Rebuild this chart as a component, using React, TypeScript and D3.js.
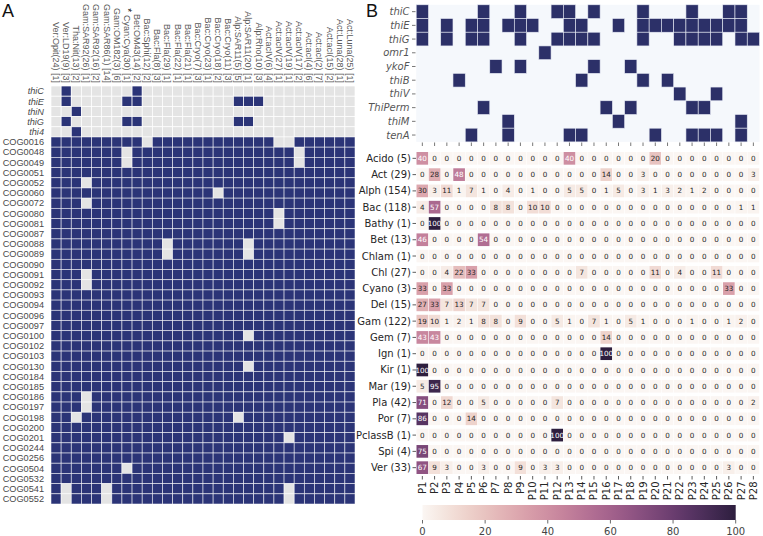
import React from "react";
import * as d3 from "d3";

// ---------- Panel A data ----------
const aCols = [
  "Ver:Opit(24) [1]", "Ver:LD19(9) [3]", "Tha:Nit(13) [2]", "Gam:SAR92(26) [1]", "Gam:SAR92(16) [2]",
  "Gam:SAR86(1) [14]", "Gam:OM182(3) [6]", "Cyan:Cya(30) [1]", "Bet:OM43(14) [2]", "Bac:Sphi(12) [2]",
  "Bac:Fla(8) [3]", "Bac:Fla(29) [1]", "Bac:Fla(22) [1]", "Bac:Fla(21) [1]", "Bac:Cryo(7) [3]",
  "Bac:Cryo(23) [1]", "Bac:Cryo(18) [2]", "Bac:Cryo(11) [3]", "Alp:SAR11(5) [5]", "Alp:SAR11(20) [1]",
  "Alp:Rho(10) [3]", "Act:acIV(6) [4]", "Act:acIV(27) [1]", "Act:acIV(19) [1]", "Act:acIV(17) [2]",
  "Act:acI(4) [6]", "Act:acI(2) [7]", "Act:acI(15) [2]", "Act:Luna(28) [1]", "Act:Luna(25) [1]",
];
const aStarred = [7];
const thiRows = ["thiC", "thiE", "thiN", "thiG", "thi4"];
const thiPresent = [[1, 8], [1, 7, 8, 18, 19, 20], [2], [1, 7, 8, 18, 19], [2]];
const cogRows = [
  "COG0016", "COG0048", "COG0049", "COG0051", "COG0052", "COG0060", "COG0072", "COG0080", "COG0081",
  "COG0087", "COG0088", "COG0089", "COG0090", "COG0091", "COG0092", "COG0093", "COG0094", "COG0096",
  "COG0097", "COG0100", "COG0102", "COG0103", "COG0130", "COG0184", "COG0185", "COG0186", "COG0197",
  "COG0198", "COG0200", "COG0201", "COG0244", "COG0256", "COG0504", "COG0532", "COG0541", "COG0552",
];
const cogAbsent = [
  [9, 22, 23], [7, 24], [7, 24], [], [3], [16], [3], [22], [22],
  [], [11, 19], [11, 19], [], [3], [3], [], [], [],
  [], [19], [], [], [19], [], [], [3], [3],
  [2, 18], [], [23], [], [], [7], [], [1, 5, 23], [1, 5, 23],
];

// ---------- Panel B data ----------
const pCols = Array.from({ length: 28 }, (_, i) => `P${i + 1}`);
const geneRows = ["thiC", "thiE", "thiG", "omr1", "ykoF", "thiB", "thiV", "ThiPerm", "thiM", "tenA"];
const genePresent = [
  [1, 6, 9, 12, 13, 15, 19, 23, 26, 27],
  [1, 3, 5, 6, 8, 9, 10, 13, 14, 17, 19, 20, 21, 22, 23, 24, 25, 26, 27],
  [1, 3, 5, 6, 9, 12, 13, 14, 15, 19, 22, 23, 24, 25, 27, 28],
  [11],
  [7, 9, 15, 18],
  [4, 14, 19, 21],
  [22, 25],
  [6, 16, 18, 23, 24],
  [8, 17, 27],
  [5, 8, 13, 14, 20, 23, 24, 25, 27],
];
const taxa = [
  "Acido (5)", "Act (29)", "Alph (154)", "Bac (118)", "Bathy (1)", "Bet (13)", "Chlam (1)", "Chl (27)",
  "Cyano (3)", "Del (15)", "Gam (122)", "Gem (7)", "Ign (1)", "Kir (1)", "Mar (19)", "Pla (42)",
  "Por (7)", "PclassB (1)", "Spi (4)", "Ver (33)",
];
const acido = [40, 0, 0, 0, 0, 0, 0, 0, 0, 0, 0, 0, 40, 0, 0, 0, 0, 0, 0, 20, 0, 0, 0, 0, 0, 0, 0, 0];
const act = [0, 28, 0, 48, 0, 0, 0, 0, 0, 0, 0, 0, 0, 0, 0, 14, 0, 0, 3, 0, 0, 0, 0, 0, 0, 0, 0, 3];
const alph = [30, 3, 11, 1, 7, 1, 0, 4, 0, 1, 0, 0, 5, 5, 0, 1, 5, 0, 3, 1, 3, 2, 1, 2, 0, 0, 0, 0];
const bac = [4, 57, 0, 0, 0, 0, 8, 8, 0, 10, 10, 0, 0, 0, 0, 0, 0, 0, 0, 0, 0, 0, 0, 0, 0, 0, 1, 1];
const bathy = [0, 100, 0, 0, 0, 0, 0, 0, 0, 0, 0, 0, 0, 0, 0, 0, 0, 0, 0, 0, 0, 0, 0, 0, 0, 0, 0, 0];
const bet = [46, 0, 0, 0, 0, 54, 0, 0, 0, 0, 0, 0, 0, 0, 0, 0, 0, 0, 0, 0, 0, 0, 0, 0, 0, 0, 0, 0];
const chlam = [0, 0, 0, 0, 0, 0, 0, 0, 0, 0, 0, 0, 0, 0, 0, 0, 0, 0, 0, 0, 0, 0, 0, 0, 0, 0, 0, 0];
const chl = [0, 0, 4, 22, 33, 0, 0, 0, 0, 0, 0, 0, 0, 7, 0, 0, 0, 0, 0, 11, 0, 4, 0, 0, 11, 0, 0, 0];
const cyano = [33, 0, 33, 0, 0, 0, 0, 0, 0, 0, 0, 0, 0, 0, 0, 0, 0, 0, 0, 0, 0, 0, 0, 0, 0, 33, 0, 0];
const del = [27, 33, 7, 13, 7, 7, 0, 0, 0, 0, 0, 0, 0, 0, 0, 0, 0, 0, 0, 0, 0, 0, 0, 0, 0, 0, 0, 0];
const gam = [19, 10, 1, 2, 1, 8, 8, 0, 9, 0, 0, 5, 1, 0, 7, 1, 0, 5, 1, 0, 0, 0, 1, 0, 0, 1, 2, 0];
const gem = [43, 43, 0, 0, 0, 0, 0, 0, 0, 0, 0, 0, 0, 0, 0, 14, 0, 0, 0, 0, 0, 0, 0, 0, 0, 0, 0, 0];
const ign = [0, 0, 0, 0, 0, 0, 0, 0, 0, 0, 0, 0, 0, 0, 0, 100, 0, 0, 0, 0, 0, 0, 0, 0, 0, 0, 0, 0];
const kir = [100, 0, 0, 0, 0, 0, 0, 0, 0, 0, 0, 0, 0, 0, 0, 0, 0, 0, 0, 0, 0, 0, 0, 0, 0, 0, 0, 0];
const mar = [5, 95, 0, 0, 0, 0, 0, 0, 0, 0, 0, 0, 0, 0, 0, 0, 0, 0, 0, 0, 0, 0, 0, 0, 0, 0, 0, 0];
const pla = [71, 0, 12, 0, 0, 5, 0, 0, 0, 0, 0, 7, 0, 0, 0, 0, 0, 0, 0, 0, 0, 0, 0, 0, 0, 0, 0, 2];
const por = [86, 0, 0, 0, 14, 0, 0, 0, 0, 0, 0, 0, 0, 0, 0, 0, 0, 0, 0, 0, 0, 0, 0, 0, 0, 0, 0, 0];
const pclassB = [0, 0, 0, 0, 0, 0, 0, 0, 0, 0, 0, 100, 0, 0, 0, 0, 0, 0, 0, 0, 0, 0, 0, 0, 0, 0, 0, 0];
const spi = [75, 0, 0, 0, 0, 0, 0, 0, 0, 0, 0, 0, 0, 0, 0, 0, 0, 0, 0, 0, 0, 0, 0, 0, 0, 0, 0, 0];
const ver = [67, 9, 3, 0, 0, 3, 0, 0, 9, 0, 3, 3, 0, 0, 0, 0, 0, 0, 0, 0, 0, 0, 0, 0, 0, 3, 0, 0];
const heatValues = [acido, act, alph, bac, bathy, bet, chlam, chl, cyano, del, gam, gem, ign, kir, mar, pla, por, pclassB, spi, ver];
const cbarTicks = [0, 20, 40, 60, 80, 100];

// ---------- helpers ----------
const LIGHT = 0.97, DARK = 0.15;
function cubehelix(v: number): string {
  const lam = LIGHT + (DARK - LIGHT) * (v / 100);
  const start = 0, rot = 0.4, hue = 0.8;
  const a = (hue * lam * (1 - lam)) / 2;
  const phi = 2 * Math.PI * (start / 3 + rot * lam);
  const c = Math.cos(phi), s = Math.sin(phi);
  const r = lam + a * (-0.14861 * c + 1.78277 * s);
  const g = lam + a * (-0.29227 * c - 0.90649 * s);
  const b = lam + a * (1.97294 * c);
  const cl = (x: number) => Math.round(Math.max(0, Math.min(1, x)) * 255);
  return d3.rgb(cl(r), cl(g), cl(b)).formatHex();
}
function textColor(fill: string): string {
  const c = d3.rgb(fill);
  const lin = (u: number) => {
    const x = u / 255;
    return x <= 0.03928 ? x / 12.92 : Math.pow((x + 0.055) / 1.055, 2.4);
  };
  const lum = 0.2126 * lin(c.r) + 0.7152 * lin(c.g) + 0.0722 * lin(c.b);
  return lum > 0.408 ? "#262626" : "#ffffff";
}

const NAVY_A = "#2b3477";
const NAVY_B = "#2c3068";
const GRAY_A = "#e4e4e4";
const fontA = "'Liberation Sans', Arial, sans-serif";
const fontB = "'DejaVu Sans', sans-serif";
const LABEL_B = 10;

export default function App() {
  // Panel A scales
  const aRowsAll = [...thiRows, ...cogRows];
  const ax = d3.scaleBand<number>().domain(d3.range(aCols.length)).range([51, 355]);
  const ay = d3.scaleBand<string>().domain(aRowsAll).range([86, 504]);

  // Panel B scales
  const bx = d3.scaleBand<string>().domain(pCols).range([416.2, 759.5]);
  const gy = d3.scaleBand<string>().domain(geneRows).range([4.8, 141.9]);
  const hy = d3.scaleBand<string>().domain(taxa).range([150.2, 475.8]);
  const cx = d3.scaleLinear().domain([0, 100]).range([422.5, 735.7]);

  const aCells: React.ReactNode[] = [];
  thiRows.forEach((r, ri) => {
    aCols.forEach((_, ci) => {
      const on = thiPresent[ri].includes(ci);
      aCells.push(
        <rect key={`t${ri}-${ci}`} x={ax(ci)} y={ay(r)} width={ax.bandwidth()} height={ay.bandwidth()}
          fill={on ? NAVY_A : GRAY_A} stroke="#ffffff" strokeWidth={0.7} />
      );
    });
  });
  cogRows.forEach((r, ri) => {
    aCols.forEach((_, ci) => {
      const off = cogAbsent[ri].includes(ci);
      aCells.push(
        <rect key={`c${ri}-${ci}`} x={ax(ci)} y={ay(r)} width={ax.bandwidth()} height={ay.bandwidth()}
          fill={off ? GRAY_A : NAVY_A} stroke="#ffffff" strokeWidth={0.7} strokeOpacity={0.75} />
      );
    });
  });

  const gCells: React.ReactNode[] = [];
  geneRows.forEach((g, gi) => {
    genePresent[gi].forEach((p) => {
      gCells.push(
        <rect key={`g${gi}-${p}`} x={bx(`P${p}`)} y={gy(g)} width={bx.bandwidth()} height={gy.bandwidth()}
          fill={NAVY_B} stroke="#e8ecf5" strokeWidth={0.6} />
      );
    });
  });

  const hCells: React.ReactNode[] = [];
  taxa.forEach((t, ti) => {
    heatValues[ti].forEach((v, pi) => {
      const fill = cubehelix(v);
      const x = bx(pCols[pi])!;
      const y = hy(t)!;
      hCells.push(
        <g key={`h${ti}-${pi}`}>
          <rect x={x + 0.3} y={y + 1.8} width={bx.bandwidth() - 0.6} height={hy.bandwidth() - 3.6} fill={fill} />
          <text x={x + bx.bandwidth() / 2} y={y + hy.bandwidth() / 2} dy="0.35em" textAnchor="middle"
            fontSize={7.2} fontFamily={fontB} fill={textColor(fill)}>{v}</text>
        </g>
      );
    });
  });

  const gradStops = d3.range(0, 101, 5);

  return (
    <svg width={763} height={536} style={{ position: "absolute", left: 0, top: 0, background: "#ffffff" }}>
      <defs>
        <linearGradient id="cbar" x1="0" x2="1" y1="0" y2="0">
          {gradStops.map((s) => (
            <stop key={s} offset={`${s}%`} stopColor={cubehelix(s)} />
          ))}
        </linearGradient>
      </defs>

      {/* Panel labels */}
      <text x={2} y={17} fontSize={18} fontFamily={fontA} fill="#111">A</text>
      <text x={366} y={17} fontSize={18} fontFamily={fontA} fill="#111">B</text>

      {/* Panel A */}
      {aCells}
      {aCols.map((c, i) => (
        <text key={`ac${i}`} transform={`translate(${ax(i)! + ax.bandwidth() / 2},83) rotate(90)`}
          textAnchor="end" dy="0.35em" fontSize={9} fontFamily={fontA} fill="#5a5a5a">
          {aStarred.includes(i) ? <tspan fill="#111" fontSize={10}>* </tspan> : null}
          {c}
        </text>
      ))}
      {aRowsAll.map((r, i) => (
        <text key={`ar${i}`} x={44} y={ay(r)! + ay.bandwidth() / 2} dy="0.35em" textAnchor="end"
          fontSize={9.2} fontFamily={fontA} fill="#4a4a4a" fontStyle={i < thiRows.length ? "italic" : "normal"}>
          {r}
        </text>
      ))}

      {/* Panel B top grid */}
      <rect x={416.2} y={4.8} width={759.5 - 416.2} height={141.9 - 4.8} fill="#f5f8fc" />
      {gCells}
      {geneRows.map((g, i) => (
        <g key={`gl${i}`}>
          <line x1={412} x2={415.5} y1={gy(g)! + gy.bandwidth() / 2} y2={gy(g)! + gy.bandwidth() / 2} stroke="#555" strokeWidth={0.8} />
          <text x={409.5} y={gy(g)! + gy.bandwidth() / 2} dy="0.35em" textAnchor="end" fontSize={LABEL_B}
            fontStyle="italic" fontFamily={fontB} fill="#555">{g}</text>
        </g>
      ))}
      {pCols.map((p) => (
        <line key={`gt${p}`} x1={bx(p)! + bx.bandwidth() / 2} x2={bx(p)! + bx.bandwidth() / 2} y1={142.5} y2={146}
          stroke="#555" strokeWidth={0.8} />
      ))}

      {/* Panel B heatmap */}
      {hCells}
      {taxa.map((t, i) => (
        <g key={`tl${i}`}>
          <line x1={412.5} x2={416} y1={hy(t)! + hy.bandwidth() / 2} y2={hy(t)! + hy.bandwidth() / 2} stroke="#333" strokeWidth={0.8} />
          <text x={411} y={hy(t)! + hy.bandwidth() / 2} dy="0.35em" textAnchor="end" fontSize={LABEL_B}
            fontFamily={fontB} fill="#262626">{t}</text>
        </g>
      ))}
      {pCols.map((p) => (
        <g key={`pl${p}`}>
          <line x1={bx(p)! + bx.bandwidth() / 2} x2={bx(p)! + bx.bandwidth() / 2} y1={476} y2={479.5} stroke="#333" strokeWidth={0.8} />
          <text transform={`translate(${bx(p)! + bx.bandwidth() / 2},481.5) rotate(-90)`} dy="0.35em" textAnchor="end"
            fontSize={LABEL_B} fontFamily={fontB} fill="#262626">{p}</text>
        </g>
      ))}

      {/* Colorbar */}
      <rect x={cx(0)} y={505} width={cx(100) - cx(0)} height={15} fill="url(#cbar)" />
      {cbarTicks.map((t) => (
        <g key={`cb${t}`}>
          <line x1={cx(t)} x2={cx(t)} y1={520} y2={523.5} stroke="#444" strokeWidth={0.8} />
          <text x={cx(t)} y={535} textAnchor="middle" fontSize={LABEL_B} fontFamily={fontB} fill="#444">{t}</text>
        </g>
      ))}
    </svg>
  );
}
